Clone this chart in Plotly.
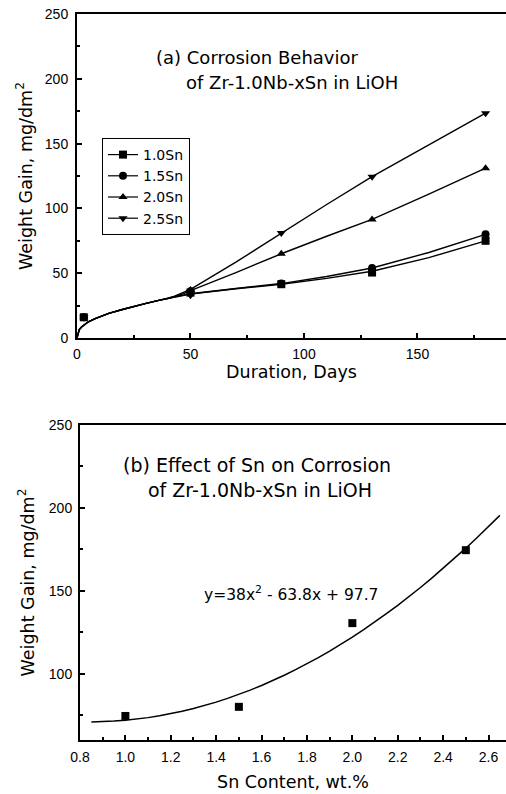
import plotly.graph_objects as go

# ---------------- data: panel (a) ----------------
days = [3, 50, 90, 130, 180]
sn10 = [16, 35, 41.5, 50.5, 75]
sn15 = [16, 36, 42, 54, 80]
sn20 = [16, 37, 65, 91.5, 131]
sn25 = [16, 33, 81, 124.5, 173.5]
series_names = ["1.0Sn", "1.5Sn", "2.0Sn", "2.5Sn"]

# smooth fitted curves
curve_days = [0, 0.5, 1, 2, 3, 5, 8, 10, 14, 20, 25, 30, 36, 40, 43, 47, 50, 70, 90, 110, 130, 155, 180]
curve10 = [0, 4, 6.5, 8.5, 10, 12.5, 15, 16.5, 19, 22, 24.5, 26.5, 29, 30.5, 31.8, 33, 34, 38, 41.5, 46, 51.5, 62, 75]
curve15 = [0, 4, 6.5, 8.5, 10, 12.5, 15, 16.5, 19, 22, 24.5, 26.5, 29, 30.5, 31.8, 33, 34.2, 38.2, 42, 47.5, 54, 66, 80]
curve20 = [0, 4, 6.5, 8.5, 10, 12.5, 15, 16.5, 19, 22, 24.5, 26.5, 29, 30.5, 32, 34.3, 36.5, 50.5, 65, 78.5, 91.5, 111, 131]
curve25 = [0, 4, 6.5, 8.5, 10, 12.5, 15, 16.5, 19, 22, 24.5, 26.5, 29, 30.5, 32.3, 35, 37.5, 58.5, 81, 103, 124.5, 149, 173.5]

# ---------------- data: panel (b) ----------------
sn_content = [1.0, 1.5, 2.0, 2.5]
gain_180 = [74.5, 80, 130.5, 174.5]
fit_coeffs = [38, -63.8, 97.7]          # y = 38x^2 - 63.8x + 97.7 (equation printed on chart)
fit_x = [0.85 + 0.05 * i for i in range(37)]

TICKFONT = "Liberation Sans, Arial, sans-serif"
FONT = "DejaVu Sans, sans-serif"
symbols = ["square", "circle", "triangle-up", "triangle-down"]
vals = [sn10, sn15, sn20, sn25]
curves = [curve10, curve15, curve20, curve25]

fig = go.Figure()

for name, sym, v, c in zip(series_names, symbols, vals, curves):
    fig.add_trace(go.Scatter(x=curve_days, y=c, mode="lines", line=dict(color="black", width=1.4),
                             showlegend=False, xaxis="x", yaxis="y", hoverinfo="skip"))
    fig.add_trace(go.Scatter(x=days, y=v, mode="markers",
                             marker=dict(symbol=sym, size=8, color="black"),
                             showlegend=False, xaxis="x", yaxis="y"))
    fig.add_trace(go.Scatter(x=[None], y=[None], mode="lines+markers", name=name,
                             line=dict(color="black", width=1.2),
                             marker=dict(symbol=sym, size=8, color="black"),
                             xaxis="x", yaxis="y"))

fit_y = [fit_coeffs[0] * x * x + fit_coeffs[1] * x + fit_coeffs[2] for x in fit_x]
fig.add_trace(go.Scatter(x=fit_x, y=fit_y, mode="lines", line=dict(color="black", width=1.5),
                         showlegend=False, xaxis="x2", yaxis="y2"))
fig.add_trace(go.Scatter(x=sn_content, y=gain_180, mode="markers",
                         marker=dict(symbol="square", size=8, color="black"),
                         showlegend=False, xaxis="x2", yaxis="y2"))

W, H = 506, 794
def px(x):
    return x / W
def py(y):
    return 1 - y / H

axis_common = dict(showline=True, linecolor="black", linewidth=2, ticks="inside",
                   tickcolor="black", tickwidth=1.5, ticklen=5, showgrid=False, zeroline=False,
                   automargin=False, ticklabeloverflow="allow",
                   tickfont=dict(family=TICKFONT, size=14, color="black"),
                   title_font=dict(family=FONT, size=17.5, color="black"))

def ann(text, x, y, size):
    return dict(text=text, x=px(x), y=py(y), xref="paper", yref="paper",
                xanchor="center", yanchor="middle", showarrow=False,
                font=dict(family=FONT, size=size, color="black"))

fig.update_layout(
    width=W, height=H,
    margin=dict(l=0, r=0, t=0, b=0),
    paper_bgcolor="white", plot_bgcolor="white",
    font=dict(family=FONT, color="black"),
    xaxis=dict(domain=[px(77), 1.0], range=[0, 189], tickvals=[0, 50, 100, 150],
               minor=dict(ticks="inside", dtick=25, tick0=0, ticklen=3, tickcolor="black"),
               mirror=True, anchor="y", ticklabelstandoff=2,
               title=dict(text="Duration, Days", standoff=5), **axis_common),
    yaxis=dict(domain=[py(338), py(14)], range=[0, 250], tickvals=[0, 50, 100, 150, 200, 250],
               minor=dict(ticks="inside", dtick=25, tick0=0, ticklen=3, tickcolor="black"),
               anchor="x", ticklabelstandoff=4,
               title=dict(text="Weight Gain, mg/dm<sup>2</sup>", standoff=8),
               **axis_common),
    xaxis2=dict(domain=[px(80), 1.0], range=[0.8, 2.677],
                tickvals=[0.8, 1.0, 1.2, 1.4, 1.6, 1.8, 2.0, 2.2, 2.4, 2.6], tickformat=".1f",
                minor=dict(ticks="inside", dtick=0.1, tick0=0.8, ticklen=3, tickcolor="black"),
                mirror=True, anchor="y2", ticklabelstandoff=3,
                title=dict(text="Sn Content, wt.%", standoff=12), **axis_common),
    yaxis2=dict(domain=[py(740), py(425)], range=[60, 250], tickvals=[100, 150, 200, 250],
                minor=dict(ticks="inside", dtick=25, tick0=75, ticklen=3, tickcolor="black"),
                anchor="x2", ticklabelstandoff=3,
                title=dict(text="Weight Gain, mg/dm<sup>2</sup>", standoff=10),
                **axis_common),
    legend=dict(x=px(102), y=py(138), xanchor="left", yanchor="top",
                bordercolor="black", borderwidth=1, bgcolor="white",
                font=dict(family=FONT, size=14, color="black"),
                itemwidth=30, tracegroupgap=0),
    annotations=[
        ann("(a) Corrosion Behavior", 257, 57, 18),
        ann("of Zr-1.0Nb-xSn in LiOH", 292, 82, 18),
        ann("(b) Effect of Sn on Corrosion", 257, 465, 19),
        ann("of Zr-1.0Nb-xSn in LiOH", 260, 490, 19),
        ann("y=38x<sup>2</sup> - 63.8x + 97.7", 291, 593, 15.5),
    ],
)

# remove the browser's default 8px page margin so the figure fills the window exactly
fig.write_html("out.html", config={"displayModeBar": False},
               post_script="document.body.style.margin='0';")
